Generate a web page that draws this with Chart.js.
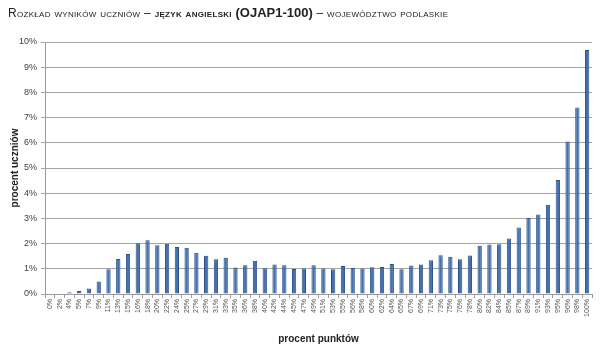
<!DOCTYPE html>
<html>
<head>
<meta charset="utf-8">
<script src="https://cdn.jsdelivr.net/npm/chart.js@4.4.1/dist/chart.umd.min.js"></script>
<style>
  html, body { margin: 0; padding: 0; background: #fff; }
  #wrap { position: relative; width: 600px; height: 357px; }
  #title {
    position: absolute; left: 8px; top: 5px; white-space: nowrap;
    font-family: "Liberation Sans", Arial, sans-serif; font-size: 12px;
    font-variant: small-caps; color: #222; letter-spacing: 0.3px;
  }
  #title b { font-weight: bold; }
  #title .code { font-variant: normal; font-size: 13px; font-weight: bold; letter-spacing: 0; }
  canvas { position: absolute; left: 0; top: 0; }
</style>
</head>
<body>
<div id="wrap">
  <canvas id="c" width="600" height="357"></canvas>
  <div id="title">Rozkład wyników uczniów – <b>język angielski</b> <span class="code">(OJAP1-100)</span> – województwo podlaskie</div>
</div>
<script>
const categories = ["0%","2%","4%","5%","7%","9%","11%","13%","15%","16%","18%","20%","22%","24%","25%","27%","29%","31%","33%","35%","36%","38%","40%","42%","44%","45%","47%","49%","51%","53%","55%","56%","58%","60%","62%","64%","65%","67%","69%","71%","73%","75%","76%","78%","80%","82%","84%","85%","87%","89%","91%","93%","95%","96%","98%","100%"];
const studentShare = [0,0.02,0.07,0.12,0.22,0.5,0.98,1.39,1.59,2.01,2.13,1.93,1.99,1.87,1.84,1.64,1.52,1.38,1.44,1.05,1.14,1.32,1.02,1.17,1.14,0.99,1.01,1.14,1.01,0.98,1.11,1.03,1.01,1.06,1.07,1.19,0.98,1.13,1.17,1.34,1.54,1.48,1.38,1.53,1.91,1.96,1.97,2.20,2.64,3.02,3.15,3.54,4.52,6.05,7.40,9.68];
const yTicks = [0,1,2,3,4,5,6,7,8,9,10];
const xTitle = "procent punktów";
const yTitle = "procent uczniów";

new Chart(document.getElementById('c'), {
  type: 'bar',
  data: {
    labels: categories,
    datasets: [{
      data: studentShare,
      backgroundColor: '#4470ae',
      borderColor: '#2a508a',
      borderWidth: 1,
      barPercentage: 0.44,
      categoryPercentage: 1.0
    }]
  },
  options: {
    responsive: false,
    animation: false,
    devicePixelRatio: 1,
    layout: { padding: { top: 42, right: 8, bottom: 0, left: 0 } },
    plugins: { legend: { display: false }, tooltip: { enabled: false } },
    scales: {
      x: {
        grid: { display: true, drawOnChartArea: false, drawTicks: true, tickLength: 4, color: '#9a9a9a', offset: true },
        border: { display: true, color: '#9a9a9a' },
        ticks: {
          autoSkip: false, maxRotation: 90, minRotation: 90, padding: 1,
          font: { family: 'Liberation Sans', size: 7 }, color: '#555'
        },
        title: {
          display: true, text: xTitle,
          font: { family: 'Liberation Sans', size: 10, weight: 'bold' }, color: '#222',
          padding: { top: 0, bottom: 12 }
        },
        afterFit: (s) => { s.height = 63; }
      },
      y: {
        min: 0, max: 10,
        afterBuildTicks: (s) => { s.ticks = yTicks.map(v => ({ value: v })); },
        grid: { color: '#a6a6a6', lineWidth: 1, tickLength: 4, drawTicks: true },
        border: { display: true, color: '#9a9a9a' },
        ticks: {
          padding: 4,
          font: { family: 'Liberation Sans', size: 9 }, color: '#404040',
          callback: (v) => v + '%'
        },
        title: {
          display: true, text: yTitle,
          font: { family: 'Liberation Sans', size: 10, weight: 'bold' }, color: '#222',
          padding: { top: 9, bottom: 0 }
        },
        afterFit: (s) => { s.width = 45; }
      }
    }
  }
});
</script>
</body>
</html>
